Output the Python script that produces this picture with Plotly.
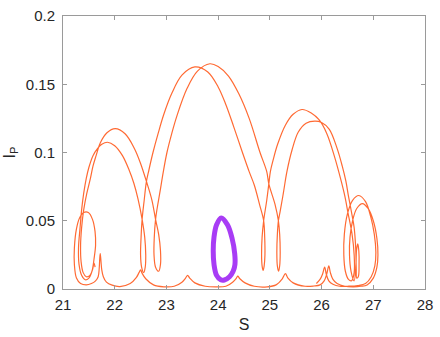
import plotly.graph_objects as go

# ---- axis ticks ----
x_ticks = [21, 22, 23, 24, 25, 26, 27, 28]
y_ticks = [0, 0.05, 0.1, 0.15, 0.2]
y_tick_labels = ["0", "0.05", "0.1", "0.15", "0.2"]

# ---- orange trajectory (time order) ----
start_S = [25.90, 25.97, 26.02, 26.06, 26.09, 26.14, 26.22, 26.35, 26.50, 26.70, 26.85, 26.96, 27.03, 27.05, 27.02,
           26.95, 26.85, 26.72, 26.60, 26.50, 26.44, 26.43, 26.46, 26.52, 26.58, 26.63, 26.63, 26.59, 26.51, 26.45]
start_I = [0.004, 0.007, 0.011, 0.016, 0.011, 0.006, 0.0035, 0.002, 0.002, 0.0025, 0.004, 0.009, 0.017, 0.027, 0.040,
           0.053, 0.064, 0.0685, 0.065, 0.055, 0.040, 0.025, 0.013, 0.007, 0.006, 0.012, 0.025, 0.040, 0.056, 0.068]

c1_S = [26.38, 26.25, 26.10, 25.95, 25.80, 25.62, 25.45, 25.30, 25.15, 25.06, 25.01, 24.98, 24.94, 24.88]
c1_I = [0.079, 0.097, 0.114, 0.124, 0.129, 0.1315, 0.128, 0.120, 0.106, 0.094, 0.086, 0.077, 0.065, 0.050]

v3_S = [24.85, 24.84, 24.85, 24.87, 24.89, 24.905, 24.90, 24.88]
v3_I = [0.038, 0.025, 0.017, 0.0136, 0.017, 0.025, 0.038, 0.050]

x_S = [24.80, 24.70, 24.60, 24.47, 24.30, 24.15, 24.00, 23.80, 23.55, 23.30, 23.10, 22.95, 22.84, 22.74, 22.66,
       22.61, 22.57, 22.53]
x_I = [0.062, 0.076, 0.086, 0.100, 0.119, 0.135, 0.148, 0.159, 0.1627, 0.1567, 0.143, 0.128, 0.114, 0.100, 0.087,
       0.078, 0.065, 0.051]

v1_S = [22.51, 22.50, 22.52, 22.56, 22.59, 22.60, 22.58, 22.53]
v1_I = [0.038, 0.025, 0.016, 0.012, 0.016, 0.025, 0.038, 0.051]

l2_S = [22.45, 22.37, 22.28, 22.15, 22.00, 21.86, 21.75, 21.67, 21.58, 21.50, 21.45, 21.40, 21.36, 21.33, 21.30]
l2_I = [0.066, 0.0775, 0.087, 0.0977, 0.105, 0.1075, 0.106, 0.103, 0.0977, 0.089, 0.081, 0.070, 0.058, 0.045, 0.030]

leftA_S = [21.31, 21.36, 21.43, 21.50, 21.56, 21.60, 21.63, 21.62, 21.57, 21.49, 21.40, 21.32, 21.26, 21.22, 21.22,
           21.26, 21.34, 21.45, 21.55, 21.63, 21.68, 21.70, 21.71, 21.72, 21.735, 21.75, 21.78, 21.84, 21.95]
leftA_I = [0.018, 0.010, 0.0068, 0.008, 0.013, 0.022, 0.032, 0.042, 0.051, 0.056, 0.056, 0.052, 0.044, 0.030, 0.018,
           0.008, 0.004, 0.003, 0.004, 0.006, 0.009, 0.015, 0.022, 0.026, 0.020, 0.014, 0.009, 0.005, 0.0028]

base_S = [22.10, 22.30, 22.42, 22.47, 22.50, 22.53, 22.60, 22.75, 22.95, 23.15, 23.30, 23.37, 23.41, 23.45, 23.55,
          23.75, 23.95, 24.15, 24.28, 24.35, 24.38, 24.42, 24.52, 24.70, 24.95, 25.12, 25.24, 25.30, 25.35, 25.45,
          25.68, 25.85, 25.97, 26.05, 26.10, 26.14, 26.17, 26.22, 26.30, 26.45, 26.62, 26.76, 26.88]
base_I = [0.0018, 0.004, 0.0085, 0.012, 0.014, 0.0115, 0.0075, 0.003, 0.0016, 0.002, 0.005, 0.008, 0.010, 0.008, 0.0045,
          0.002, 0.0015, 0.002, 0.005, 0.0078, 0.0094, 0.0075, 0.0045, 0.002, 0.0016, 0.003, 0.0075, 0.0112, 0.008, 0.0045,
          0.002, 0.0022, 0.003, 0.006, 0.011, 0.017, 0.012, 0.007, 0.004, 0.002, 0.0016, 0.002, 0.003]

rightB_S = [27.00, 27.07, 27.09, 27.07, 27.00, 26.90, 26.79, 26.68, 26.60, 26.55, 26.54, 26.57, 26.63, 26.665, 26.675,
            26.70, 26.72, 26.725, 26.71, 26.68, 26.67, 26.66, 26.63, 26.58, 26.52]
rightB_I = [0.008, 0.016, 0.025, 0.037, 0.050, 0.059, 0.0626, 0.059, 0.050, 0.038, 0.025, 0.013, 0.006, 0.018, 0.028,
            0.033, 0.028, 0.018, 0.009, 0.008, 0.015, 0.030, 0.045, 0.056, 0.068]

c2_S = [26.47, 26.40, 26.30, 26.15, 26.00, 25.87, 25.70, 25.55, 25.43, 25.33, 25.26, 25.20, 25.165]
c2_I = [0.079, 0.090, 0.103, 0.117, 0.122, 0.123, 0.1215, 0.115, 0.102, 0.086, 0.070, 0.057, 0.050]

v4_S = [25.145, 25.135, 25.145, 25.17, 25.19, 25.20, 25.19, 25.165]
v4_I = [0.040, 0.027, 0.017, 0.013, 0.017, 0.027, 0.040, 0.050]

y_S = [25.10, 24.98, 24.94, 24.81, 24.60, 24.40, 24.20, 24.00, 23.84, 23.60, 23.40, 23.20, 23.10, 23.01, 22.94,
       22.87, 22.82, 22.79]
y_I = [0.062, 0.077, 0.086, 0.100, 0.125, 0.143, 0.156, 0.163, 0.165, 0.1596, 0.147, 0.1265, 0.1135, 0.100, 0.086,
       0.070, 0.059, 0.051]

v2_S = [22.765, 22.76, 22.79, 22.85, 22.885, 22.885, 22.85, 22.79]
v2_I = [0.038, 0.025, 0.016, 0.013, 0.018, 0.028, 0.040, 0.051]

l1_S = [22.72, 22.62, 22.50, 22.38, 22.20, 22.01, 21.85, 21.72, 21.64, 21.58, 21.53, 21.46, 21.40, 21.36, 21.34,
        21.35, 21.39, 21.45, 21.52, 21.57, 21.60, 21.62]
l1_I = [0.065, 0.078, 0.092, 0.103, 0.1137, 0.1175, 0.1145, 0.107, 0.0977, 0.090, 0.081, 0.070, 0.058, 0.045, 0.032,
        0.020, 0.012, 0.009, 0.010, 0.014, 0.019, 0.016]

# ---- purple closed orbit ----
purple_S = [24.06, 23.97, 23.92, 23.905, 23.92, 23.97, 24.05, 24.12, 24.22, 24.29, 24.325, 24.32, 24.27, 24.18, 24.06]
purple_I = [0.052, 0.047, 0.038, 0.028, 0.018, 0.010, 0.0068, 0.0066, 0.009, 0.013, 0.018, 0.026, 0.037, 0.047, 0.052]

segments_S = [start_S, c1_S, v3_S, x_S, v1_S, l2_S, leftA_S, base_S, rightB_S, c2_S, v4_S, y_S, v2_S, l1_S]
segments_I = [start_I, c1_I, v3_I, x_I, v1_I, l2_I, leftA_I, base_I, rightB_I, c2_I, v4_I, y_I, v2_I, l1_I]
orange_S = [v for seg in segments_S for v in seg]
orange_I = [v for seg in segments_I for v in seg]

ORANGE = "#FF6A33"
PURPLE = "#A83CF5"
AXIS = "#9a9a9a"
TEXT = "#262626"
FONT = "Liberation Sans, Arial, Helvetica, sans-serif"

fig = go.Figure()
fig.add_trace(go.Scatter(x=orange_S, y=orange_I, mode="lines",
                         line=dict(color=ORANGE, width=1.2, shape="spline", smoothing=1.0),
                         hoverinfo="skip"))
fig.add_trace(go.Scatter(x=purple_S, y=purple_I, mode="lines",
                         line=dict(color=PURPLE, width=5, shape="spline", smoothing=1.0),
                         hoverinfo="skip"))

fig.update_layout(
    width=440, height=337,
    margin=dict(l=63, r=10, t=7, b=44),
    paper_bgcolor="white", plot_bgcolor="white",
    showlegend=False,
    font=dict(family=FONT, color=TEXT),
    xaxis=dict(range=[21, 28], tickvals=x_ticks, ticks="inside", ticklen=4, tickcolor=AXIS,
               showline=True, linecolor=AXIS, linewidth=1, mirror="ticks",
               showgrid=False, zeroline=False, tickfont=dict(size=15, color=TEXT),
               ticklabelstandoff=2, ticklabeloverflow="allow",
               title=dict(text="S", font=dict(size=16, color=TEXT), standoff=6)),
    yaxis=dict(range=[0, 0.2], tickvals=y_ticks, ticktext=y_tick_labels, ticks="inside", ticklen=4,
               tickcolor=AXIS, showline=True, linecolor=AXIS, linewidth=1, mirror="ticks",
               showgrid=False, zeroline=False, tickfont=dict(size=15, color=TEXT),
               ticklabelstandoff=4, ticklabeloverflow="allow",
               title=dict(text="I<sub>P</sub>", font=dict(size=16, color=TEXT), standoff=6)),
)

fig.write_html("out.html")
